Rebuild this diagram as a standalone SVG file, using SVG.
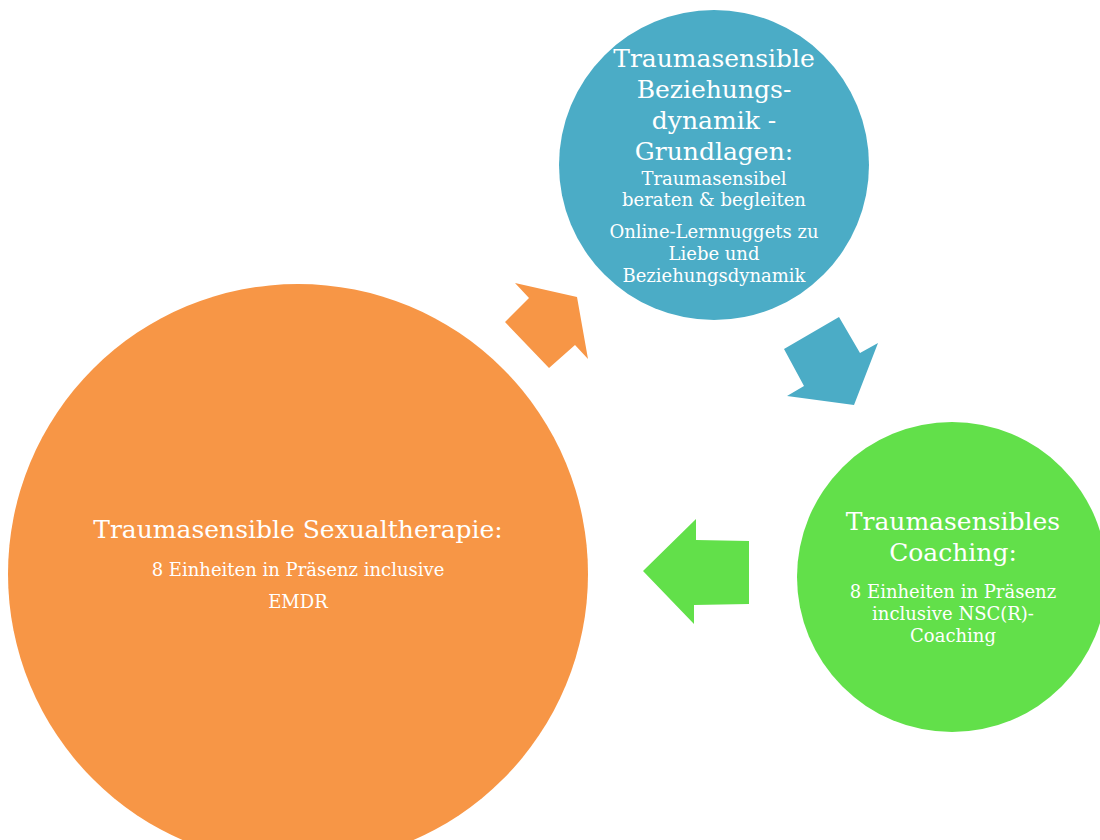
<svg xmlns="http://www.w3.org/2000/svg" width="1100" height="840" viewBox="0 0 1100 840">
<style>
.t{font-family:"DejaVu Serif","Liberation Serif",serif;fill:#ffffff;text-anchor:middle}
.big{font-size:25px}
.small{font-size:18px}
</style>
<rect width="1100" height="840" fill="#ffffff"/>
<g id="node-sexualtherapie">
<circle cx="298" cy="574" r="290" fill="#F79646"/>
<text class="t big" x="298" y="538">Traumasensible Sexualtherapie:</text>
<text class="t small" x="298" y="576">8 Einheiten in Präsenz inclusive</text>
<text class="t small" x="298" y="608">EMDR</text>
</g>
<g id="node-beziehungsdynamik">
<circle cx="714" cy="165" r="155" fill="#4BACC6"/>
<text class="t big" x="714" y="67">Traumasensible</text>
<text class="t big" x="714" y="98">Beziehungs-</text>
<text class="t big" x="714" y="129">dynamik -</text>
<text class="t big" x="714" y="160">Grundlagen:</text>
<text class="t small" x="714" y="185">Traumasensibel</text>
<text class="t small" x="714" y="206">beraten &amp; begleiten</text>
<text class="t small" x="714" y="238">Online-Lernnuggets zu</text>
<text class="t small" x="714" y="260">Liebe und</text>
<text class="t small" x="714" y="282">Beziehungsdynamik</text>
</g>
<g id="node-coaching">
<circle cx="952" cy="577" r="155" fill="#62E04A"/>
<text class="t big" x="953" y="530">Traumasensibles</text>
<text class="t big" x="953" y="561">Coaching:</text>
<text class="t small" x="953" y="598">8 Einheiten in Präsenz</text>
<text class="t small" x="953" y="620">inclusive NSC(R)-</text>
<text class="t small" x="953" y="642">Coaching</text>
</g>
<g id="connectors">
<polygon points="515,283 577,297 588,359 575,345 549,368 505,322 529,298" fill="#F79646"/>
<polygon points="839,317 860,353 878,343 854,405 787,396 804,386 784,349" fill="#4BACC6"/>
<polygon points="696,519 696,540 749,541 749,604 694,605 694,624 643,571" fill="#62E04A"/>
</g>
</svg>
